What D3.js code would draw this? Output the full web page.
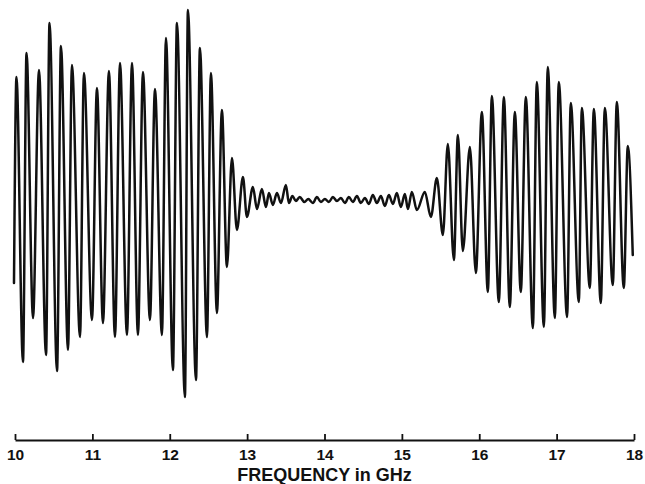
<!DOCTYPE html>
<html><head><meta charset="utf-8">
<script src="https://cdn.jsdelivr.net/npm/d3@7/dist/d3.min.js"></script>
<style>html,body{margin:0;padding:0;background:#fff;}svg{display:block;}</style>
</head><body>
<script>
// Frequency (GHz) of each turning point of the trace
const freqGHz = [
 9.987,10.019,10.103,10.149,10.233,10.310,10.401,10.446,10.543,10.594,
 10.685,10.736,10.840,10.891,10.995,11.059,11.137,11.214,11.292,11.357,
 11.447,11.512,11.589,11.654,11.744,11.809,11.899,11.951,12.041,12.093,
 12.196,12.235,12.339,12.390,12.481,12.532,12.610,12.674,12.739,12.804,
 12.868,12.946,12.997,13.075,13.127,13.191,13.243,13.282,13.333,13.385,
 13.437,13.501,
 13.540,13.585,13.630,13.680,13.740,13.790,13.850,13.902,13.953,14.005,
 14.057,14.109,14.160,14.212,14.264,14.315,14.367,14.419,14.470,14.522,
 14.574,14.625,14.677,14.729,14.780,14.832,14.884,14.935,14.987,15.039,
 15.078,
 15.129,15.194,15.297,15.375,15.452,15.530,15.594,15.672,15.724,15.788,
 15.879,15.956,16.034,16.111,16.163,16.253,16.318,16.395,16.460,16.537,
 16.602,16.693,16.744,16.835,16.886,16.977,17.028,17.135,17.183,17.287,
 17.326,17.429,17.481,17.571,17.623,17.726,17.778,17.868,17.920,17.984
];
// Relative amplitude (arbitrary units) at each turning point
const amplitude = [
 -83,123,-162,147,-118,130,-155,177,-171,154,
 -150,135,-137,127,-120,112,-123,129,-137,137,
 -135,137,-135,128,-120,111,-135,162,-170,177,
 -197,190,-180,152,-137,127,-113,90,-67,42,
 -30,23,-17,13,-9,11,-7,7,-5,7,
 -3,15,
 -3,4,-1,3,-2,1,-3,3,-2,1,
 -2,3,-1,2,-3,3,-2,4,-3,2,
 -4,5,-3,4,-6,5,-4,7,-7,6,
 -9,
 8,-10,8,-17,22,-35,56,-60,65,-51,
 53,-73,88,-92,104,-102,103,-107,88,-92,
 103,-128,118,-127,133,-118,118,-117,97,-102,
 92,-88,91,-103,92,-85,98,-88,54,-55
];
const tickValues = [10,11,12,13,14,15,16,17,18];
const axisTitle = "FREQUENCY in GHz";

const W = 645, H = 484;
const svg = d3.select("body").append("svg").attr("width", W).attr("height", H);

const x = d3.scaleLinear().domain([10, 18]).range([15, 634]);
const y = d3.scaleLinear().domain([-200, 200]).range([400, 0]);

const pts = freqGHz.map((f, i) => [f, amplitude[i]]);

svg.append("path")
  .datum(pts)
  .attr("fill", "none")
  .attr("stroke", "#111")
  .attr("stroke-width", 2.5)
  .attr("stroke-linejoin", "round")
  .attr("stroke-linecap", "round")
  .attr("d", d3.line().x(d => x(d[0])).y(d => y(d[1])).curve(d3.curveMonotoneX));

const axisY = 440;
const ax = svg.append("g")
  .attr("transform", `translate(0,${axisY})`)
  .call(d3.axisBottom(x).tickValues(tickValues).tickFormat(d3.format("d"))
        .tickSizeInner(-6).tickSizeOuter(0).tickPadding(9));
ax.select(".domain").attr("stroke", "#111").attr("stroke-width", 1.8);
ax.selectAll(".tick line").attr("stroke", "#111").attr("stroke-width", 1.8);
ax.selectAll(".tick text")
  .attr("fill", "#111")
  .style("font-family", "'Liberation Sans', Arial, sans-serif")
  .style("font-size", "15.5px")
  .style("font-weight", "bold");

svg.append("text")
  .attr("x", x(14)).attr("y", 481)
  .attr("text-anchor", "middle")
  .attr("fill", "#111")
  .style("font-family", "'Liberation Sans', Arial, sans-serif")
  .style("font-size", "18px")
  .style("font-weight", "bold")
  .text(axisTitle);
</script>
</body></html>
